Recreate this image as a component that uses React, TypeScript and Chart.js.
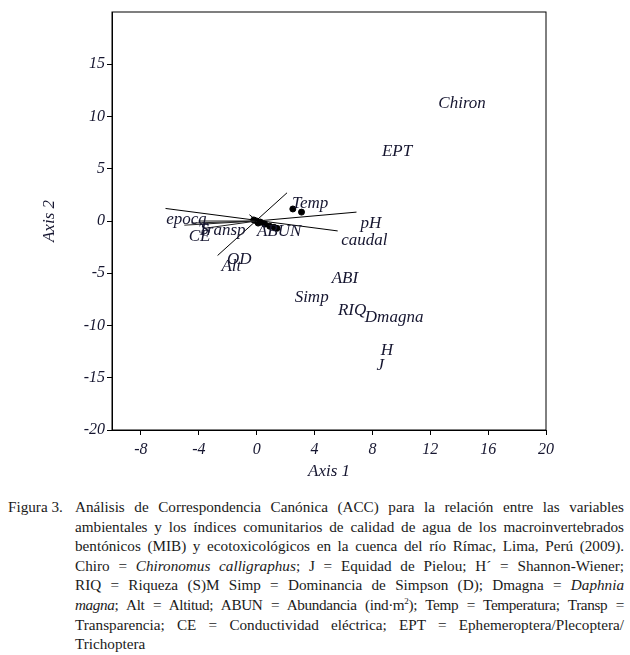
import React, { useEffect, useRef } from "react";
import { Chart, registerables } from "chart.js";

Chart.register(...registerables);

const xTicks = [-8, -4, 0, 4, 8, 12, 16, 20];
const yTicks = [-20, -15, -10, -5, 0, 5, 10, 15];

const labelNames = ["Chiron", "EPT", "Temp", "pH", "caudal", "ABI", "Simp", "RIQ", "Dmagna", "H", "J", "epoca", "Transp", "S", "CE", "ABUN", "OD", "Alt"];
const labelX = [14.2, 9.7, 3.7, 7.9, 7.45, 6.1, 3.8, 6.6, 9.5, 9.0, 8.55, -4.85, -2.4, -3.6, -3.95, 1.55, -1.2, -1.75];
const labelY = [11.25, 6.6, 1.7, -0.2, -1.9, -5.5, -7.3, -8.55, -9.25, -12.4, -13.85, 0.1, -0.9, -0.85, -1.45, -1.05, -3.65, -4.4];

// vector lines: start x, start y, end x, end y
const segStartX = [-6.3, 0, -2.7, -0.5, 0, 0, 0, 0];
const segStartY = [1.2, 0, -3.3, 0.6, 0, 0, 0, 0];
const segEndX = [5.6, 6.9, 2.1, 0.4, -5.0, -4.0, -4.5, -3.6];
const segEndY = [-0.95, 0.85, 2.7, -0.4, -0.4, 0.0, -0.2, -0.7];

const dotX = [0, 0.25, -0.2, 0.55, 0.9, 1.2, 1.4, 0.1, 2.5, 3.1];
const dotY = [0, -0.1, 0.1, -0.3, -0.5, -0.6, -0.7, -0.2, 1.15, 0.85];

const thickX = [0, 1.4];
const thickY = [0, -0.7];

const captionLines = [
  ["Análisis de Correspondencia Canónica (ACC) para la relación entre las variables"],
  ["ambientales y los índices comunitarios de calidad de agua de los macroinvertebrados"],
  ["bentónicos (MIB) y ecotoxicológicos en la cuenca del río Rímac, Lima, Perú (2009)."],
];

const TXT = "#161630";
const SERIF = "'Liberation Serif', 'Times New Roman', serif";

export default function App() {
  const ref = useRef<HTMLCanvasElement | null>(null);

  useEffect(() => {
    if (!ref.current) return;
    const segDatasets = segStartX.map((sx, i) => ({
      label: "seg" + i,
      data: [
        { x: sx, y: segStartY[i] },
        { x: segEndX[i], y: segEndY[i] },
      ],
      showLine: true,
      borderColor: i >= 4 ? "#222" : "#000",
      borderWidth: 1,
      pointRadius: 0,
    }));
    const thick = {
      label: "thick",
      data: thickX.map((x, i) => ({ x, y: thickY[i] })),
      showLine: true,
      borderColor: "#000",
      borderWidth: 4,
      pointRadius: 0,
    };
    const dots = {
      label: "dots",
      data: dotX.map((x, i) => ({ x, y: dotY[i] })),
      showLine: false,
      pointRadius: 3,
      pointBackgroundColor: "#000",
      pointBorderColor: "#000",
    };
    const labels = {
      label: "labels",
      data: labelX.map((x, i) => ({ x, y: labelY[i] })),
      showLine: false,
      pointRadius: 0,
    };
    const labelPlugin = {
      id: "labelPlugin",
      afterDatasetsDraw(chart: any) {
        const idx = chart.data.datasets.findIndex((d: any) => d.label === "labels");
        const meta = chart.getDatasetMeta(idx);
        const ctx = chart.ctx;
        ctx.save();
        ctx.font = `italic 17px ${SERIF}`;
        ctx.fillStyle = TXT;
        ctx.textAlign = "center";
        ctx.textBaseline = "middle";
        meta.data.forEach((el: any, i: number) => {
          ctx.fillText(labelNames[i], el.x, el.y);
        });
        ctx.restore();
      },
    };
    const framePlugin = {
      id: "framePlugin",
      afterDraw(chart: any) {
        const { left, right, top, bottom } = chart.chartArea;
        const ctx = chart.ctx;
        ctx.save();
        ctx.strokeStyle = "#000";
        ctx.lineWidth = 1;
        ctx.strokeRect(left, top, right - left, bottom - top);
        ctx.restore();
      },
    };
    const chart = new Chart(ref.current, {
      type: "scatter",
      data: { datasets: [...segDatasets, thick, dots, labels] as any },
      plugins: [labelPlugin, framePlugin],
      options: {
        animation: false,
        responsive: false,
        layout: { padding: { left: 0, right: 84, top: 12, bottom: 0 } },
        plugins: { legend: { display: false }, tooltip: { enabled: false } },
        scales: {
          x: {
            type: "linear",
            min: -10,
            max: 20,
            afterBuildTicks: (s: any) => {
              s.ticks = xTicks.map((v) => ({ value: v }));
            },
            afterFit: (s: any) => {
              s.height = 60;
            },
            grid: { display: true, drawOnChartArea: false, drawTicks: true, tickLength: 5, color: "#000" },
            border: { display: true, color: "#000" },
            ticks: {
              color: TXT,
              font: { family: SERIF, size: 16, style: "italic" },
              padding: 5,
              maxRotation: 0,
              autoSkip: false,
            },
            title: {
              display: true,
              text: "Axis 1",
              color: TXT,
              font: { family: SERIF, size: 17, style: "italic" },
              padding: { top: 0, bottom: 8 },
            },
          },
          y: {
            type: "linear",
            min: -20,
            max: 20,
            afterBuildTicks: (s: any) => {
              s.ticks = yTicks.map((v) => ({ value: v }));
            },
            afterFit: (s: any) => {
              s.width = 112;
            },
            grid: { display: true, drawOnChartArea: false, drawTicks: true, tickLength: 5, color: "#000" },
            border: { display: true, color: "#000" },
            ticks: {
              color: TXT,
              font: { family: SERIF, size: 16, style: "italic" },
              padding: 2,
              autoSkip: false,
            },
            title: {
              display: true,
              text: "Axis 2",
              color: TXT,
              font: { family: SERIF, size: 17, style: "italic" },
              padding: { top: 39, bottom: 0 },
            },
          },
        },
      },
    });
    return () => chart.destroy();
  }, []);

  const lineStyle = (last: boolean): React.CSSProperties => ({
    height: 19.6,
    lineHeight: "19.6px",
    textAlign: "justify",
    textAlignLast: last ? "left" : "justify",
    whiteSpace: "nowrap",
  });

  return (
    <div style={{ position: "absolute", left: 0, top: 0, width: 630, height: 655, background: "#fff" }}>
      <canvas ref={ref} width={630} height={490} style={{ position: "absolute", left: 0, top: 0, width: 630, height: 490 }} />
      <div
        style={{
          position: "absolute",
          left: 0,
          top: 497,
          width: 630,
          fontFamily: SERIF,
          fontSize: 15.2,
          color: "#1a1a1a",
        }}
      >
        <div style={{ position: "absolute", left: 8, top: 0, lineHeight: "19.6px" }}>Figura 3.</div>
        <div style={{ position: "absolute", left: 75, top: 0, width: 549 }}>
          {captionLines.map((l, i) => (
            <div key={i} style={lineStyle(false)}>{l[0]}</div>
          ))}
          <div style={lineStyle(false)}>
            Chiro = <i>Chironomus calligraphus</i>; J = Equidad de Pielou; H´ = Shannon-Wiener;
          </div>
          <div style={lineStyle(false)}>
            RIQ = Riqueza (S)M Simp = Dominancia de Simpson (D); Dmagna = <i>Daphnia</i>
          </div>
          <div style={{ ...lineStyle(false), letterSpacing: -0.35 }}>
            <i>magna</i>; Alt = Altitud; ABUN = Abundancia (ind·m<sup style={{ fontSize: 9, lineHeight: 0 }}>2</sup>); Temp = Temperatura; Transp =
          </div>
          <div style={lineStyle(false)}>
            Transparencia; CE = Conductividad eléctrica; EPT = Ephemeroptera/Plecoptera/
          </div>
          <div style={lineStyle(true)}>Trichoptera</div>
        </div>
      </div>
    </div>
  );
}
